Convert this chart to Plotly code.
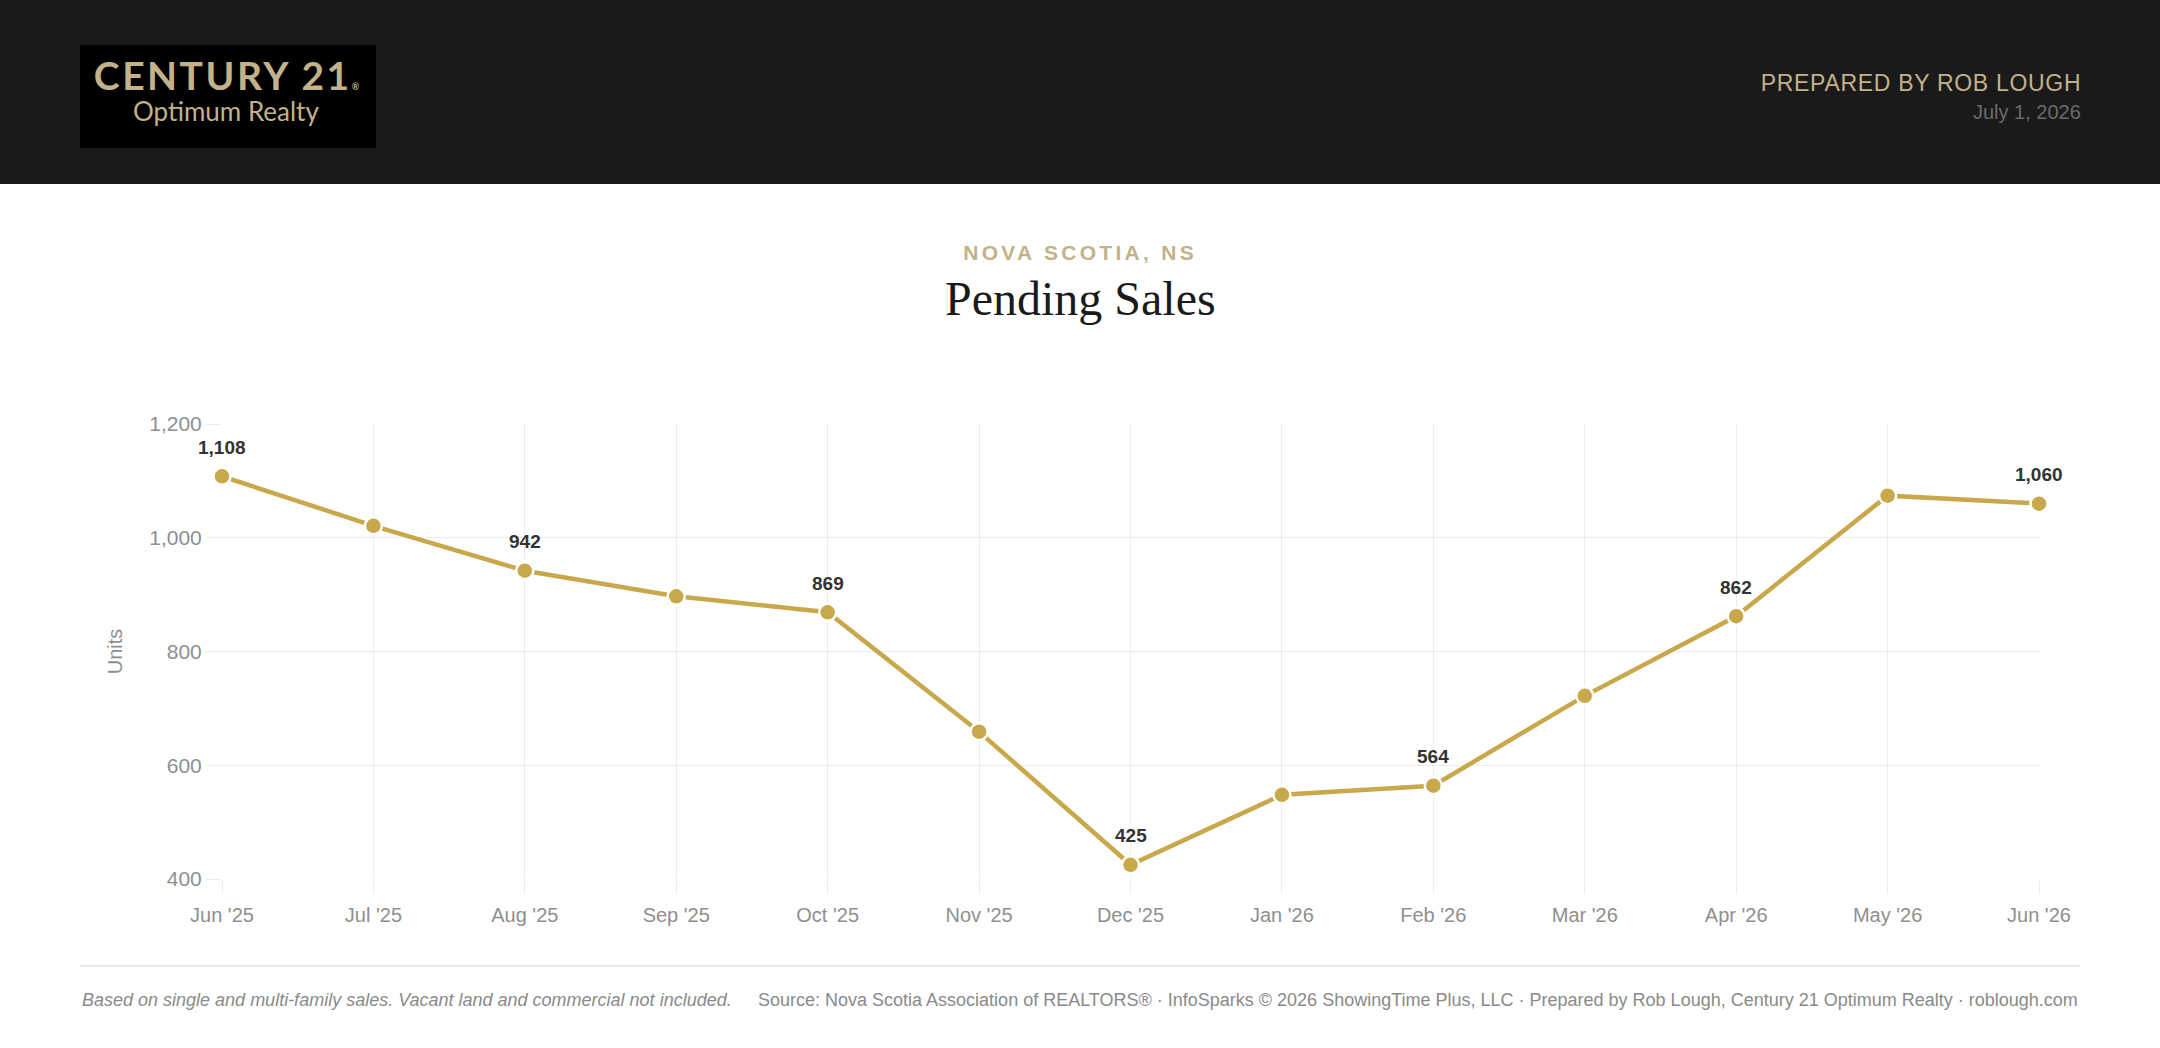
import plotly.graph_objects as go

W, H = 2160, 1048

months = ["Jun '25", "Jul '25", "Aug '25", "Sep '25", "Oct '25", "Nov '25", "Dec '25",
          "Jan '26", "Feb '26", "Mar '26", "Apr '26", "May '26", "Jun '26"]
pending = [1108, 1021, 942, 897, 869, 659, 425, 548, 564, 722, 862, 1074, 1060]
y_ticks = [400, 600, 800, 1000, 1200]

GOLD = "#C9A84C"
TAN = "#C2B28A"
FONT = "Liberation Sans, Arial, sans-serif"


def px_x(x):
    return x / W


def px_y(y):
    return 1 - y / H


fig = go.Figure()
fig.add_trace(go.Scatter(
    x=months, y=pending, mode="lines+markers",
    line=dict(color=GOLD, width=4.5),
    marker=dict(size=17, color=GOLD, line=dict(color="white", width=2.5)),
    cliponaxis=False, hoverinfo="x+y", showlegend=False,
))

annotations = []
for i, (m, v) in enumerate(zip(months, pending)):
    if i % 2 == 0:
        annotations.append(dict(
            x=m, y=v, xref="x", yref="y", text=f"{v:,}", showarrow=False,
            yshift=29, font=dict(family=FONT, size=19, color="#333333", weight="bold"),
        ))

# header / title / footer texts
annotations += [
    dict(x=px_x(228), y=px_y(75), xref="paper", yref="paper",
         text="CENTURY 21<span style='font-size:9px'>®</span>",
         showarrow=False, xanchor="center", yanchor="middle", height=32, width=292,
         font=dict(family="Lato, sans-serif", size=39, color=TAN, weight="bold")),
    dict(x=px_x(226), y=px_y(111), xref="paper", yref="paper", text="Optimum Realty",
         showarrow=False, xanchor="center", yanchor="middle", height=30,
         font=dict(family="Lato, sans-serif", size=26, color=TAN)),
    dict(x=px_x(2076), y=px_y(83), xref="paper", yref="paper", text="PREPARED BY ROB LOUGH",
         showarrow=False, xanchor="right", yanchor="middle",
         font=dict(family=FONT, size=23, color=TAN)),
    dict(x=px_x(2083), y=px_y(112), xref="paper", yref="paper", text="July 1, 2026",
         showarrow=False, xanchor="right", yanchor="middle",
         font=dict(family=FONT, size=20, color="#6b6b6b")),
    dict(x=0.5, y=px_y(253), xref="paper", yref="paper", text="NOVA SCOTIA, NS",
         showarrow=False, xanchor="center", yanchor="middle",
         font=dict(family=FONT, size=21, color=TAN, weight="bold")),
    dict(x=0.5, y=px_y(298), xref="paper", yref="paper", text="Pending Sales",
         showarrow=False, xanchor="center", yanchor="middle",
         font=dict(family="Liberation Serif, Times New Roman, serif", size=48, color="#1a1a1a")),
    dict(x=px_x(80), y=px_y(1000), xref="paper", yref="paper",
         text="Based on single and multi-family sales. Vacant land and commercial not included.",
         showarrow=False, xanchor="left", yanchor="middle",
         font=dict(family=FONT, size=18, color="#8a8a8a", style="italic")),
    dict(x=px_x(2080), y=px_y(1000), xref="paper", yref="paper",
         text="Source: Nova Scotia Association of REALTORS® · InfoSparks © 2026 ShowingTime Plus, LLC · "
              "Prepared by Rob Lough, Century 21 Optimum Realty · roblough.com",
         showarrow=False, xanchor="right", yanchor="middle",
         font=dict(family=FONT, size=18, color="#8a8a8a")),
]

shapes = [
    dict(type="rect", xref="paper", yref="paper", x0=0, x1=1, y0=px_y(184), y1=1,
         fillcolor="#1a1a1a", line=dict(width=0), layer="below"),
    dict(type="rect", xref="paper", yref="paper", x0=px_x(80), x1=px_x(376),
         y0=px_y(148), y1=px_y(45), fillcolor="#000000", line=dict(width=0), layer="below"),
    dict(type="line", xref="paper", yref="paper", x0=px_x(80), x1=px_x(2080),
         y0=px_y(966), y1=px_y(966), line=dict(color="#e6e2da", width=1.5)),
]

fig.update_layout(
    width=W, height=H, autosize=False,
    margin=dict(l=0, r=0, t=0, b=0, pad=0, autoexpand=False),
    paper_bgcolor="white", plot_bgcolor="white",
    font=dict(family=FONT),
    annotations=annotations, shapes=shapes,
    xaxis=dict(
        domain=[px_x(222), px_x(2039)], range=[0, len(months) - 1],
        showgrid=True, gridcolor="#ececec", gridwidth=1,
        ticks="outside", ticklen=14, tickcolor="#ececec", tickwidth=1,
        ticklabelstandoff=4,
        tickfont=dict(family=FONT, size=20, color="#8f8f8f"),
        showline=False, zeroline=False, fixedrange=True, automargin=False,
    ),
    yaxis=dict(
        domain=[px_y(879), px_y(424)], range=[400, 1200],
        tickvals=y_ticks, tickformat=",",
        showgrid=True, gridcolor="#ececec", gridwidth=1,
        ticks="outside", ticklen=15, tickcolor="#ececec", tickwidth=1,
        tickfont=dict(family=FONT, size=21, color="#8f8f8f"),
        title=dict(text="Units", font=dict(family=FONT, size=20, color="#8f8f8f"), standoff=21),
        showline=False, zeroline=False, fixedrange=True, automargin=False,
    ),
)

spacing_js = """
document.body.style.margin='0';
document.body.style.overflow='hidden';
var spacing = {'NOVA SCOTIA, NS': '3.3px', 'CENTURY 21®': '2.5px', 'PREPARED BY ROB LOUGH': '0.7px'};
document.querySelectorAll('text.annotation-text').forEach(function(t){
    var s = spacing[t.textContent];
    if (s) { t.style.letterSpacing = s; }
});
"""

fig.write_html("out.html", config={"displayModeBar": False}, post_script=spacing_js)
